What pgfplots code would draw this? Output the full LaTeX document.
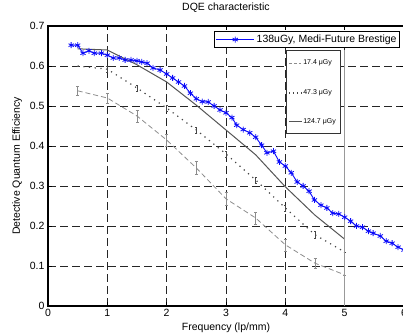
\documentclass[border=0pt]{standalone}
\usepackage{pgfplots}
\pgfplotsset{compat=1.18}
\usepackage{fontspec}
\setmainfont{Liberation Sans}
\definecolor{dqeblue}{RGB}{10,10,250}
\definecolor{gsolid}{RGB}{85,85,85}
\definecolor{gdot}{RGB}{70,70,70}
\definecolor{gdash}{RGB}{140,140,140}
\begin{document}
\begin{tikzpicture}[x=1pt,y=1pt]
\path[use as bounding box] (-48,-30) rectangle (355,306);
\begin{axis}[
  scale only axis, width=356pt, height=280pt,
  at={(0,0)}, anchor=south west,
  xmin=0, xmax=6, ymin=0, ymax=0.7,
  xtick={0,1,2,3,4,5,6},
  ytick={0,0.1,0.2,0.3,0.4,0.5,0.6,0.7},
  yticklabel style={/pgf/number format/fixed,/pgf/number format/precision=1},
  /pgf/number format/assume math mode=true,
  grid=major,
  major grid style={black!85, line width=0.7pt, dash pattern=on 8pt off 4pt},
  axis line style={line width=1.3pt},
  tick style={black, line width=0.6pt}, major tick length=4pt, tick align=inside,
  ticklabel style={font=\fontsize{10.5}{12}\selectfont},
  title={DQE characteristic},
  title style={font=\fontsize{10.5}{12}\selectfont, at={(axis description cs:0.5,1)}, anchor=base, yshift=9.5pt},
  xlabel={Frequency (lp/mm)},
  xlabel style={font=\fontsize{10.5}{12}\selectfont, at={(axis description cs:0.5,0)}, anchor=base, yshift=-25pt},
  ylabel={Detective Quantum Efficiency},
  ylabel style={font=\fontsize{10.5}{12}\selectfont, at={(axis description cs:-0.0787,0.5)}, anchor=base},
  legend style={at={(rel axis cs:0.989,0.982)}, anchor=north east, font=\fontsize{10.5}{12}\selectfont,
    draw=black, line width=1pt, inner xsep=1pt, inner ysep=1.5pt, cells={anchor=west}},
  legend image code/.code={\draw[mark repeat=2,mark phase=2,#1] plot coordinates {(0pt,0pt) (19pt,0pt) (38pt,0pt)};},
]
% 17.4 uGy (dashed)
\addplot[gdash, line width=0.8pt, dash pattern=on 5pt off 3pt, forget plot,
  error bars/.cd, y dir=both, y explicit, error bar style={solid, line width=0.6pt}, error mark options={rotate=90, mark size=1.5pt}]
  coordinates {
  (0.5,0.538) +- (0,0.012)
  (1.0,0.520) +- (0,0.012)
  (1.5,0.475) +- (0,0.015)
  (2.0,0.415) +- (0,0.015)
  (2.5,0.345) +- (0,0.016)
  (3.0,0.268) +- (0,0.016)
  (3.5,0.220) +- (0,0.015)
  (4.0,0.153) +- (0,0.015)
  (4.5,0.107) +- (0,0.012)
  (5.0,0.078) +- (0,0.000)
};
% 47.3 uGy (dotted)
\addplot[gdot, line width=1.2pt, dash pattern=on 1.2pt off 4.5pt, forget plot,
  error bars/.cd, y dir=both, y explicit, error bar style={solid, line width=0.6pt}, error mark options={rotate=90, mark size=1pt}]
  coordinates {
  (0.5,0.600) +- (0,0.000)
  (1.0,0.592) +- (0,0.008)
  (1.5,0.545) +- (0,0.008)
  (2.0,0.495) +- (0,0.008)
  (2.5,0.440) +- (0,0.008)
  (3.0,0.380) +- (0,0.008)
  (3.5,0.315) +- (0,0.008)
  (4.0,0.245) +- (0,0.008)
  (4.5,0.178) +- (0,0.008)
  (5.0,0.135) +- (0,0.000)
};
% 124.7 uGy (solid)
\addplot[gsolid, line width=1pt, forget plot] coordinates {
  (0.5,0.643) (1.0,0.640) (1.5,0.603) (2.0,0.560) (2.5,0.502) (3.0,0.440)
  (3.5,0.378) (4.0,0.298) (4.5,0.227) (5.0,0.167)
};
% edge line at x=5
\addplot[gray!80, line width=0.6pt, forget plot] coordinates {(5,0) (5,0.64)};
% inset legend box
\draw[black!80, line width=0.8pt, fill=white] (axis cs:4.01,0.432) rectangle (axis cs:4.92,0.639);
\draw[gdash, line width=0.8pt, dash pattern=on 3pt off 2pt] (axis cs:4.06,0.6075) -- (axis cs:4.26,0.6075);
\draw[gdot, line width=1.1pt, dash pattern=on 1pt off 3pt] (axis cs:4.06,0.5325) -- (axis cs:4.28,0.5325);
\draw[gsolid, line width=1pt] (axis cs:4.06,0.46) -- (axis cs:4.28,0.46);
\node[anchor=west, inner sep=0pt, font=\fontsize{7}{8}\selectfont] at (axis cs:4.30,0.6075) {17.4 μGy};
\node[anchor=west, inner sep=0pt, font=\fontsize{7}{8}\selectfont] at (axis cs:4.30,0.5325) {47.3 μGy};
\node[anchor=west, inner sep=0pt, font=\fontsize{7}{8}\selectfont] at (axis cs:4.30,0.46) {124.7 μGy};
% 138 uGy Medi-Future Brestige
\addplot[dqeblue, line width=0.9pt, mark=asterisk, mark size=3pt, mark options={solid, line width=0.8pt}] coordinates {
  (0.39,0.652)(0.50,0.652)(0.59,0.632)(0.69,0.638)(0.78,0.632)(0.90,0.632)
  (1.00,0.627)(1.10,0.620)(1.20,0.620)(1.30,0.615)(1.40,0.615)(1.50,0.613)
  (1.58,0.610)(1.67,0.607)(1.77,0.595)(1.89,0.590)(2.00,0.580)(2.10,0.570)
  (2.20,0.560)(2.30,0.550)(2.40,0.532)(2.50,0.518)(2.60,0.511)(2.70,0.510)
  (2.80,0.500)(2.90,0.490)(3.00,0.483)(3.10,0.471)(3.18,0.452)(3.29,0.441)
  (3.40,0.433)(3.50,0.422)(3.60,0.402)(3.69,0.383)(3.80,0.387)(3.90,0.360)
  (4.00,0.350)(4.10,0.333)(4.20,0.310)(4.30,0.300)(4.40,0.287)(4.49,0.265)
  (4.60,0.252)(4.70,0.245)(4.80,0.232)(4.90,0.230)(5.00,0.222)(5.10,0.212)
  (5.20,0.200)(5.30,0.197)(5.40,0.187)(5.48,0.182)(5.60,0.175)(5.70,0.162)
  (5.80,0.157)(5.90,0.147)(6.00,0.140)
};
\addlegendentry{138uGy, Medi-Future Brestige}
\end{axis}
\end{tikzpicture}
\end{document}
